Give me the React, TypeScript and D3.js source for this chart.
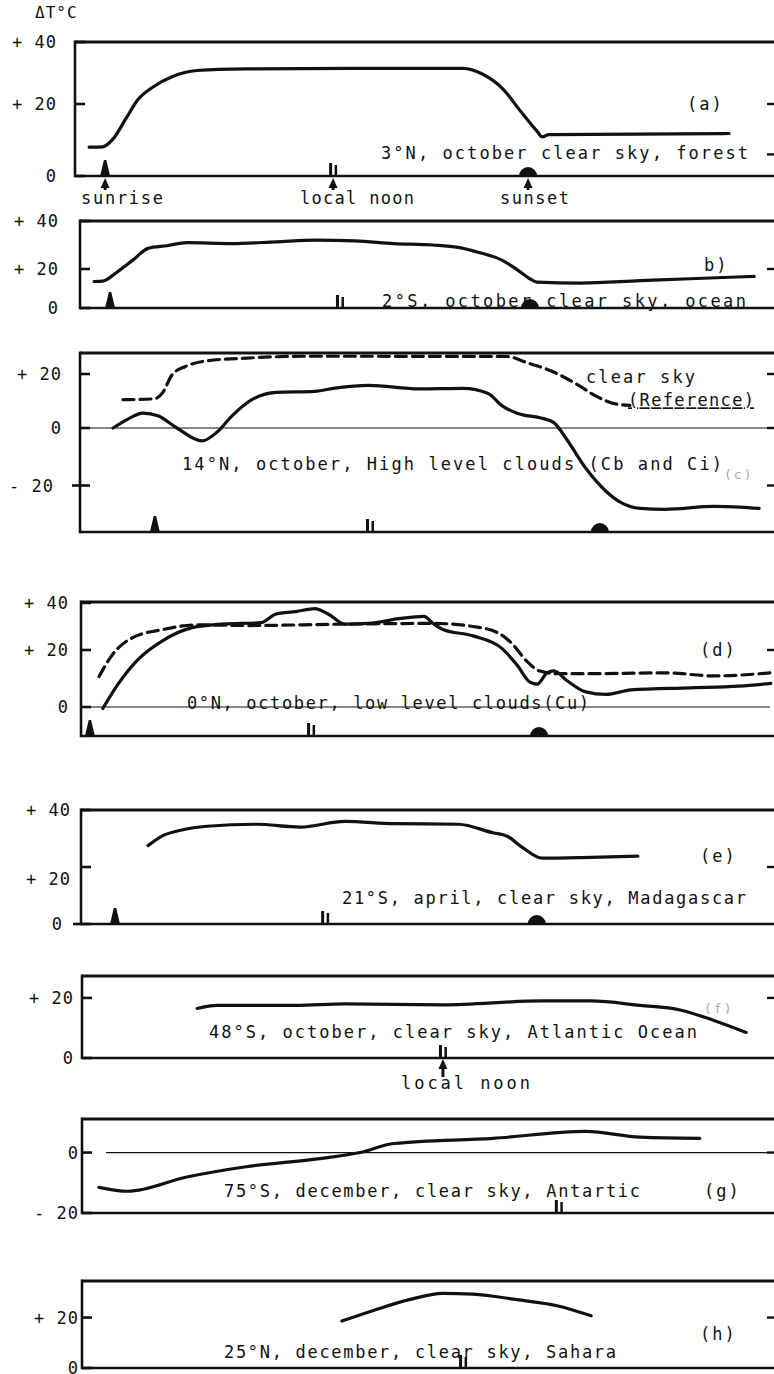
import * as d3 from "d3";

// time axis: hours after the start of each record, same scale for every panel
const hourDomain = [0, 18.6];

// (a) 3°N, october, clear sky, forest
const aHours = [0.32, 0.68, 0.95, 1.29, 1.61, 2.0, 2.5, 3.16, 4.45, 7.18, 10.16, 10.68, 11.18, 11.71, 12.11, 12.24, 12.42, 17.16];
const aTemp = [8, 8.1, 10.3, 16, 21.5, 25.5, 28.8, 30.8, 31.3, 31.5, 31.5, 29.6, 25.2, 17.5, 12.4, 10.9, 11.5, 11.8];

// (b) 2°S, october, clear sky, ocean
const bHours = [0.45, 0.68, 1.08, 1.47, 1.87, 2.37, 2.89, 4.08, 5.24, 6.26, 7.32, 8.34, 9.37, 10.03, 10.55, 11.18, 11.58, 11.97, 12.11, 13.26, 14.82, 16.13, 17.82];
const bTemp = [13.6, 13.8, 18.8, 23.7, 28.6, 29.7, 31, 30.6, 31.3, 32, 31.7, 30.6, 30, 29, 27, 23.7, 19.7, 14.4, 13.3, 12.8, 14, 15, 16.2];

// (c) 14°N, october, high level clouds, with clear sky reference
const cRefHours = [1.21, 2.03, 2.26, 2.5, 2.84, 3.42, 4.45, 6.0, 11.32, 11.84, 12.5, 13.13, 13.66, 14.18, 14.55];
const cRefTemp = [10.5, 10.8, 13.2, 19.7, 22.7, 24.9, 25.9, 26.6, 26.5, 24.2, 21, 16.4, 11.8, 8.9, 8.4];
const cHours = [0.95, 1.34, 1.74, 2.13, 2.63, 3.29, 3.68, 4.08, 4.58, 5.24, 6.26, 6.79, 7.68, 9.0, 10.16, 10.82, 11.18, 11.58, 12.24, 12.55, 12.89, 13.39, 13.92, 14.32, 14.82, 15.47, 16.76, 17.45, 17.95];
const cTemp = [0, 3.3, 5.5, 4.5, 0, -4.5, -1.5, 4.5, 10.3, 13.2, 13.6, 14.8, 15.8, 14.5, 14.7, 12.8, 8.3, 5.5, 3.6, 2, -4, -14, -22, -26, -28, -28.3, -27.3, -27.5, -28];

// (d) 0°N, october, low level clouds (Cu), with clear sky reference
const dHours = [0.68, 1.08, 1.61, 2.26, 3.03, 3.82, 4.84, 5.24, 5.76, 6.26, 6.61, 7.05, 7.68, 8.47, 9.13, 9.37, 9.63, 10.42, 11.18, 11.58, 11.92, 12.11, 12.37, 12.55, 12.89, 13.39, 13.92, 14.58, 16.13, 17.42, 18.26];
const dTemp = [-0.5, 8, 16.7, 24, 29.5, 31, 31.6, 35.3, 36.3, 37.6, 35.3, 31, 31.3, 33.3, 34.3, 31.3, 28.7, 26, 20.7, 14.7, 8.7, 8, 12, 12.7, 9.3, 5.3, 4.4, 6, 6.7, 7.3, 8.3];
const dRefHours = [0.58, 0.95, 1.47, 2.26, 3.16, 4.45, 7.05, 9.37, 10.42, 11.08, 11.45, 11.84, 12.16, 12.63, 13.53, 15.47, 16.76, 18.26];
const dRefTemp = [10.7, 18.7, 25.3, 28.7, 30.7, 30.4, 31, 31.3, 30, 27.3, 22.7, 16, 12.7, 11.7, 11.7, 12, 10.9, 12];

// (e) 21°S, april, clear sky, Madagascar
const eHours = [1.87, 2.26, 2.76, 3.42, 4.71, 5.87, 7.05, 8.34, 10.03, 10.95, 11.32, 11.71, 12.24, 13.53, 14.76];
const eTemp = [27.5, 31, 33, 34.3, 35, 34, 36, 35.2, 35, 32, 30.8, 27, 23.1, 23.4, 23.8];

// (f) 48°S, october, clear sky, Atlantic Ocean
const fHours = [3.16, 3.68, 5.76, 7.05, 9.63, 12.24, 13.53, 14.82, 15.87, 16.76, 17.61];
const fTemp = [16.5, 17.5, 17.5, 18, 17.7, 19, 19, 17.5, 16, 12.5, 8.5];

// (g) 75°S, december, clear sky, Antartic
const gHours = [0.58, 1.34, 2.89, 4.45, 6.39, 7.45, 8.34, 10.95, 13.39, 14.82, 16.39];
const gTemp = [-11.5, -12.8, -8.1, -4.7, -2, 0, 3, 4.7, 7, 5.1, 4.7];

// (h) 25°N, december, clear sky, Sahara
const hHours = [6.97, 7.82, 8.74, 9.63, 10.42, 11.58, 12.63, 13.53];
const hTemp = [18.6, 22.9, 27.1, 29.6, 29.3, 27.1, 24.7, 20.7];

// sun markers (hours): sunrise, local noon, sunset
const sunrise = { a: 0.74, b: 0.87, c: 2.05, d: 0.34, e: 1.0 };
const noon = { a: 6.74, b: 6.92, c: 7.71, d: 6.16, e: 6.53, f: 9.63, g: 12.68, h: 10.16 };
const sunset = { a: 11.87, b: 11.92, c: 13.76, d: 12.16, e: 12.1 };

const captions = {
  a: "3°N, october  clear sky, forest",
  b: "2°S, october  clear sky, ocean",
  c: "14°N, october, High level clouds (Cb and Ci)",
  d: "0°N, october, low level clouds(Cu)",
  e: "21°S, april, clear sky, Madagascar",
  f: "48°S, october,  clear sky, Atlantic Ocean",
  g: "75°S, december, clear sky, Antartic",
  h: "25°N, december, clear sky, Sahara",
};

const FONT = "'DejaVu Sans Mono', 'Liberation Mono', monospace";
const INK = "#111";
const FS = 17;
const W = 774;
const H = 1374;

const xScale = d3.scaleLinear().domain(hourDomain).range([77, 77 + 18.6 * 38]);

type Series = { hours: number[]; temp: number[]; dashed?: boolean };
type PanelDef = {
  id: string;
  left: number;
  yDomain: number[];
  yRange: number[];
  ticks: number[];
  tickText: string[];
  tickDy?: number[];
  tickOut?: number[];
  labelRight: number;
  rightTicks: number[];
  series: Series[];
  zeroLine?: number;
  caption: string;
  capX: [number, number];
  capV: number;
  tag: string;
  tagX: number;
  tagV: number;
  tagFaint?: boolean;
};

const panels: PanelDef[] = [
  { id: "a", left: 75, yDomain: [0, 20, 40], yRange: [176, 104, 42], ticks: [40, 20, 0], tickText: ["+ 40", "+ 20", "0"], labelRight: 57, rightTicks: [20, 6],
    series: [{ hours: aHours, temp: aTemp }], caption: captions.a, capX: [381, 748], capV: 6.4, tag: "(a)", tagX: 687, tagV: 20 },
  { id: "b", left: 80, yDomain: [0, 20, 40], yRange: [308, 269, 221], ticks: [40, 20, 0], tickText: ["+ 40", "+ 20", "0"], labelRight: 59, rightTicks: [20],
    series: [{ hours: bHours, temp: bTemp }], caption: captions.b, capX: [382, 746], capV: 3.5, tag: "b)", tagX: 704, tagV: 21.5 },
  { id: "c", left: 80, yDomain: [-36.2, -20, 0, 20, 27.8], yRange: [532, 485.5, 428, 374, 353], ticks: [20, 0, -20], tickText: ["+ 20", "0", "- 20"], tickOut: [-20], labelRight: 62, rightTicks: [20, 0, -20],
    series: [{ hours: cRefHours, temp: cRefTemp, dashed: true }, { hours: cHours, temp: cTemp }], zeroLine: 80,
    caption: captions.c, capX: [182, 722], capV: -12.5, tag: "(c)", tagX: 724, tagV: -15.5, tagFaint: true },
  { id: "d", left: 81, yDomain: [-10.2, 0, 20, 40.4], yRange: [736, 707, 650, 602], ticks: [40, 20, 0], tickText: ["+ 40", "+ 20", "0"], labelRight: 69, rightTicks: [20],
    series: [{ hours: dRefHours, temp: dRefTemp, dashed: true }, { hours: dHours, temp: dTemp }], zeroLine: 81,
    caption: captions.d, capX: [187, 589], capV: 1.4, tag: "(d)", tagX: 700, tagV: 20 },
  { id: "e", left: 81, yDomain: [0, 40], yRange: [924, 810], ticks: [40, 20, 0], tickText: ["+ 40", "+ 20", "0"], tickDy: [0, 12, 0], tickOut: [0], labelRight: 71, rightTicks: [20],
    series: [{ hours: eHours, temp: eTemp }], caption: captions.e, capX: [342, 746], capV: 9, tag: "(e)", tagX: 700, tagV: 24 },
  { id: "f", left: 82, yDomain: [0, 27.3], yRange: [1058, 976], ticks: [20, 0], tickText: ["+ 20", "0"], labelRight: 74, rightTicks: [20],
    series: [{ hours: fHours, temp: fTemp }], caption: captions.f, capX: [209, 697], capV: 8.5, tag: "(f)", tagX: 704, tagV: 17, tagFaint: true },
  { id: "g", left: 82, yDomain: [-20, 11.1], yRange: [1213, 1119], ticks: [0, -20], tickText: ["0", "- 20"], labelRight: 79, rightTicks: [0],
    series: [{ hours: gHours, temp: gTemp }], zeroLine: 106, caption: captions.g, capX: [224, 640], capV: -12.8, tag: "(g)", tagX: 704, tagV: -12.8 },
  { id: "h", left: 82, yDomain: [0, 34.5], yRange: [1368, 1281], ticks: [20, 0], tickText: ["+ 20", "0"], labelRight: 79, rightTicks: [20],
    series: [{ hours: hHours, temp: hTemp }], caption: captions.h, capX: [224, 616], capV: 6.4, tag: "(h)", tagX: 700, tagV: 13.6 },
];

function UpArrow({ x, tip, tail }: { x: number; tip: number; tail: number }) {
  return (
    <g fill={INK} stroke={INK}>
      <line x1={x} x2={x} y1={tip + 6} y2={tail} strokeWidth={3} />
      <path d={`M${x - 4.5},${tip + 10} L${x},${tip} L${x + 4.5},${tip + 10} Z`} stroke="none" />
    </g>
  );
}

function Panel({ p }: { p: PanelDef }) {
  const y = d3.scaleLinear().domain(p.yDomain).range(p.yRange);
  const top = Math.min(...p.yRange);
  const b = Math.max(...p.yRange);
  const line = d3
    .line<[number, number]>()
    .x((d) => xScale(d[0]))
    .y((d) => y(d[1]))
    .curve(d3.curveMonotoneX);
  const sr = (sunrise as any)[p.id];
  const nn = (noon as any)[p.id];
  const ss = (sunset as any)[p.id];

  return (
    <g>
      {/* frame */}
      <line x1={p.left} x2={W} y1={top} y2={top} stroke={INK} strokeWidth={3} />
      <line x1={p.left} x2={p.left} y1={top - 1.5} y2={b + 1.2} stroke={INK} strokeWidth={2.6} />
      <line x1={p.left} x2={W} y1={b} y2={b} stroke={INK} strokeWidth={2.6} />
      {p.zeroLine !== undefined && (
        <line x1={p.zeroLine} x2={770} y1={y(0)} y2={y(0)} stroke={INK} strokeWidth={1.2} />
      )}
      {/* left ticks and labels */}
      {p.ticks.map((t, i) => (
        <g key={t}>
          <line
            x1={p.tickOut && p.tickOut.includes(t) ? p.left - 8 : p.left}
            x2={p.left + 10}
            y1={y(t)}
            y2={y(t)}
            stroke={INK}
            strokeWidth={2.6}
          />
          <text
            x={p.tickOut && p.tickOut.includes(t) ? p.labelRight - 8 : p.labelRight}
            y={y(t) + 6 + (p.tickDy ? p.tickDy[i] : 0)}
            textAnchor="end"
            fontFamily={FONT}
            fontSize={FS}
            fill={INK}
            letterSpacing={1}
          >
            {p.tickText[i]}
          </text>
        </g>
      ))}
      {p.rightTicks.map((t) => (
        <line key={"r" + t} x1={767} x2={W} y1={y(t)} y2={y(t)} stroke={INK} strokeWidth={2.4} />
      ))}
      {/* curves */}
      {p.series.map((s, i) => (
        <path
          key={i}
          d={line(s.hours.map((h, j) => [h, s.temp[j]] as [number, number])) || ""}
          fill="none"
          stroke={INK}
          strokeWidth={3.2}
          strokeLinejoin="round"
          strokeLinecap="round"
          strokeDasharray={s.dashed ? "11 6" : undefined}
        />
      ))}
      {/* sun markers */}
      {sr !== undefined && (
        <path d={`M${xScale(sr) - 5},${b} L${xScale(sr) - 1.2},${b - 16} L${xScale(sr) + 1.2},${b - 16} L${xScale(sr) + 5},${b} Z`} fill={INK} />
      )}
      {nn !== undefined && (
        <g fill={INK}>
          <rect x={xScale(nn) - 4} y={b - 13} width={3} height={13} />
          <rect x={xScale(nn) + 1.5} y={b - 11} width={2.5} height={11} />
        </g>
      )}
      {ss !== undefined && (
        <path d={`M${xScale(ss) - 9},${b} A9,9 0 0 1 ${xScale(ss) + 9},${b} Z`} fill={INK} />
      )}
      {/* captions */}
      <text
        x={p.capX[0]}
        y={y(p.capV) + 6}
        textLength={p.capX[1] - p.capX[0]}
        lengthAdjust="spacing"
        fontFamily={FONT}
        fontSize={FS}
        fill={INK}
      >
        {p.caption}
      </text>
      <text
        x={p.tagX}
        y={y(p.tagV) + 6}
        fontFamily={FONT}
        fontSize={p.tagFaint ? 13 : FS}
        letterSpacing={2}
        fill={p.tagFaint ? "#aaa" : INK}
      >
        {p.tag}
      </text>
    </g>
  );
}

export default function App() {
  const pa = panels[0];
  const pc = panels[2];
  const pf = panels[5];
  const aBottom = Math.max(...pa.yRange);
  const fBottom = Math.max(...pf.yRange);
  const yc = d3.scaleLinear().domain(pc.yDomain).range(pc.yRange);
  return (
    <div style={{ position: "absolute", left: 0, top: 0, background: "#fff" }}>
      <svg width={W} height={H} viewBox={`0 0 ${W} ${H}`} style={{ display: "block" }}>
        <rect width={W} height={H} fill="#fff" />
        <text x={35} y={18} fontFamily={FONT} fontSize={16} fill={INK} letterSpacing={1}>
          ΔT°C
        </text>
        {panels.map((p) => (
          <Panel key={p.id} p={p} />
        ))}
        {/* panel (a) annotations */}
        <UpArrow x={xScale(sunrise.a)} tip={aBottom + 2} tail={aBottom + 14} />
        <UpArrow x={xScale(noon.a)} tip={aBottom + 2} tail={aBottom + 14} />
        <UpArrow x={xScale(sunset.a)} tip={aBottom + 2} tail={aBottom + 14} />
        <text x={81} y={aBottom + 28} textLength={82} lengthAdjust="spacing" fontFamily={FONT} fontSize={FS} fill={INK}>sunrise</text>
        <text x={300} y={aBottom + 28} textLength={114} lengthAdjust="spacing" fontFamily={FONT} fontSize={FS} fill={INK}>local noon</text>
        <text x={500} y={aBottom + 28} textLength={69} lengthAdjust="spacing" fontFamily={FONT} fontSize={FS} fill={INK}>sunset</text>
        {/* panel (c) reference label */}
        <text x={586} y={yc(19) + 6} textLength={109} lengthAdjust="spacing" fontFamily={FONT} fontSize={FS} fill={INK}>clear sky</text>
        <text x={628} y={yc(8.4) + 1} textLength={126} lengthAdjust="spacing" fontFamily={FONT} fontSize={FS} fill={INK} textDecoration="underline">(Reference)</text>
        {/* panel (f) local noon */}
        <UpArrow x={xScale(noon.f)} tip={fBottom + 1} tail={fBottom + 19} />
        <text x={401} y={fBottom + 31} textLength={129} lengthAdjust="spacing" fontFamily={FONT} fontSize={FS} fill={INK}>local  noon</text>
      </svg>
    </div>
  );
}
